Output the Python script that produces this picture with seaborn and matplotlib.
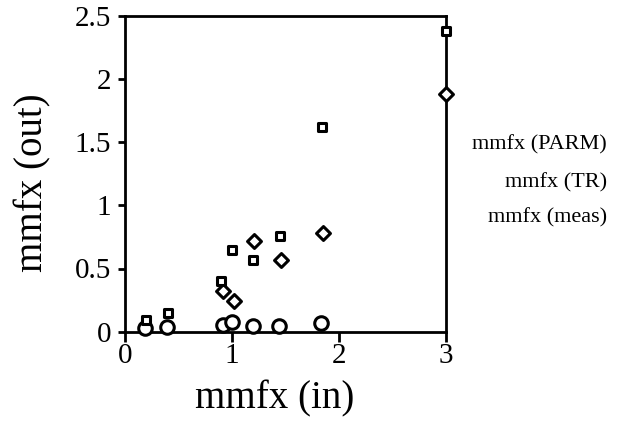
import matplotlib
matplotlib.use("Agg")
import matplotlib.pyplot as plt
import seaborn as sns
import pandas as pd

# Data
parm_x = [0.2, 0.4, 0.9, 1.0, 1.2, 1.45, 1.84, 3.0]
parm_y = [0.09, 0.15, 0.40, 0.65, 0.57, 0.76, 1.62, 2.38]

tr_x = [0.92, 1.02, 1.21, 1.46, 1.85, 3.0]
tr_y = [0.32, 0.24, 0.72, 0.57, 0.78, 1.88]

meas_x = [0.19, 0.39, 0.92, 1.0, 1.2, 1.44, 1.83]
meas_y = [0.03, 0.04, 0.05, 0.08, 0.045, 0.045, 0.07]

series_labels = ["mmfx (PARM)", "mmfx (TR)", "mmfx (meas)"]
x_ticks = [0, 1, 2, 3]
y_ticks = [0, 0.5, 1, 1.5, 2, 2.5]
y_tick_labels = ["0", "0.5", "1", "1.5", "2", "2.5"]

sns.set_style("ticks")
plt.rcParams["font.family"] = ["Liberation Serif", "DejaVu Serif"]
plt.rcParams["text.color"] = "black"
plt.rcParams["axes.labelcolor"] = "black"
plt.rcParams["xtick.color"] = "black"
plt.rcParams["ytick.color"] = "black"

fig = plt.figure(figsize=(6.21, 4.29), dpi=100)
ax = fig.add_axes([125 / 621, 1 - 331.7 / 429, (446 - 125) / 621, (331.7 - 15.7) / 429])

df_parm = pd.DataFrame({"x": parm_x, "y": parm_y})
df_tr = pd.DataFrame({"x": tr_x, "y": tr_y})
df_meas = pd.DataFrame({"x": meas_x, "y": meas_y})

common = dict(facecolor="white", edgecolor="black", linewidth=2.2, ax=ax, legend=False, zorder=3, clip_on=False)
sns.scatterplot(data=df_meas, x="x", y="y", marker="o", s=95, **common)
sns.scatterplot(data=df_tr, x="x", y="y", marker="D", s=50, **common)
sns.scatterplot(data=df_parm, x="x", y="y", marker="s", s=40, **common)

ax.set_xlim(0, 3)
ax.set_ylim(0, 2.5)
ax.set_xticks(x_ticks)
ax.set_xticklabels([str(t) for t in x_ticks])
ax.set_yticks(y_ticks)
ax.set_yticklabels(y_tick_labels)

for sp in ax.spines.values():
    sp.set_visible(True)
    sp.set_linewidth(2.0)
    sp.set_color("black")

ax.tick_params(axis="both", direction="out", width=2.0, colors="black", labelsize=21)
ax.tick_params(axis="y", length=5, pad=5)
ax.tick_params(axis="x", length=7, pad=1)

ax.set_xlabel("mmfx (in)", fontsize=28, color="black")
ax.xaxis.set_label_coords((275 - 125) / 321, (331.7 - 380) / 316)
ax.set_ylabel("mmfx (out)", fontsize=28, va="center", color="black")
ax.yaxis.set_label_coords((33 - 125) / 321, (331.7 - 183) / 316)

for lab, ypix in zip(series_labels, [145, 183, 218]):
    fig.text(607 / 621, 1 - ypix / 429, lab, ha="right", va="center", fontsize=16, color="black")

fig.savefig("out.png", dpi=100)
